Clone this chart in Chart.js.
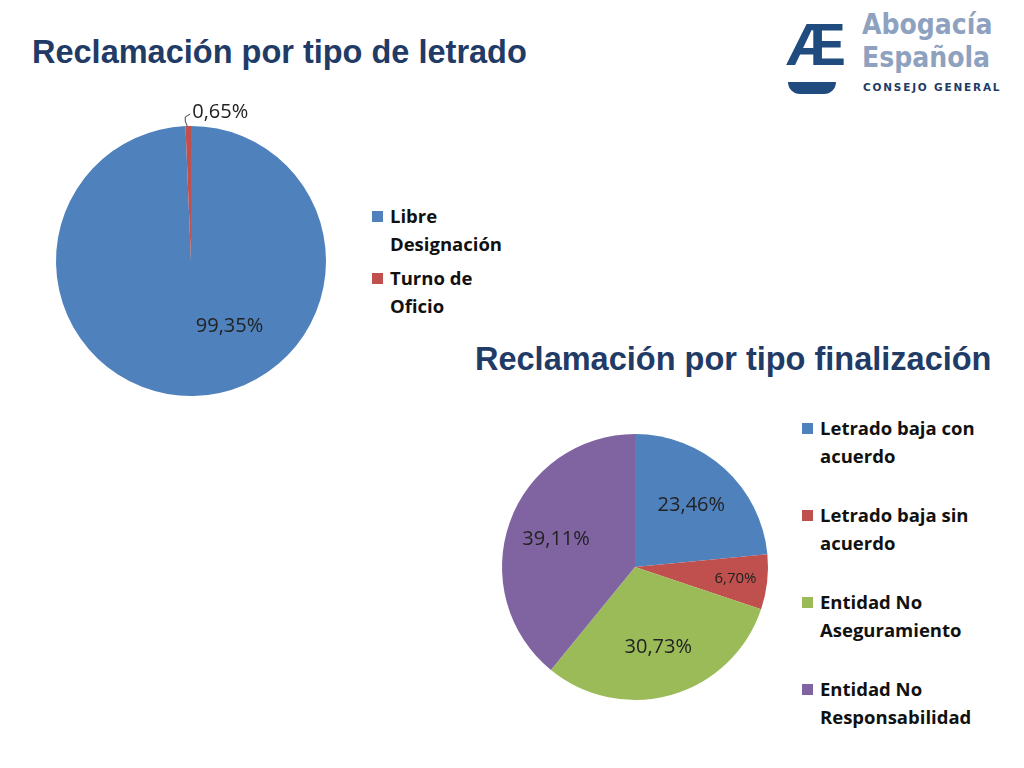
<!DOCTYPE html>
<html><head><meta charset="utf-8">
<script src="https://cdn.jsdelivr.net/npm/chart.js@4"></script>
<style>
body{margin:0;width:1024px;height:768px;background:#fff;position:relative;overflow:hidden;font-family:"Open Sans",sans-serif}
.t{position:absolute;font-family:"Liberation Sans",Arial,sans-serif;font-weight:bold;color:#1f3b66;font-size:32.5px}
.c{position:absolute}
.leg{position:absolute;font-size:18.5px;font-weight:bold;color:#111;line-height:28px}
.leg div{position:relative;padding-left:18px}
.leg span{position:absolute;left:0;top:9px;width:11px;height:11px}
</style></head><body>
<div class="t" style="left:32px;top:34px">Reclamación por tipo de letrado</div>
<div class="t" style="left:475px;top:341px">Reclamación por tipo finalización</div>
<div style="position:absolute;left:786px;top:12px;width:52px;height:82px">
  <div style="position:absolute;left:0;top:2px;font-family:'Liberation Sans';font-weight:bold;font-size:60px;line-height:62px;color:#1f4b7e">Æ</div>
  <div style="position:absolute;left:2px;top:70px;width:48px;height:12px;background:#1f4b7e;border-radius:0 0 24px 24px"></div>
</div>
<div style="position:absolute;left:862px;top:8px;font-family:'DejaVu Sans Condensed','DejaVu Sans';font-weight:bold;color:#8ea2c0;font-size:28px;line-height:33px">Abogacía<br>Española</div>
<div style="position:absolute;left:863px;top:81px;font-family:'DejaVu Sans';font-weight:bold;color:#1f3b66;font-size:10.5px;letter-spacing:1.8px">CONSEJO GENERAL</div>
<canvas id="chart1" class="c" style="left:31px;top:101px" width="320" height="320"></canvas>
<canvas id="chart2" class="c" style="left:477px;top:409px" width="316" height="316"></canvas>
<div class="leg" id="leg1" style="left:372px;top:202px;width:125px"></div>
<div class="leg" id="leg2" style="left:802px;top:414px;width:210px"></div>
<script>
const letradoLabels = ['Libre Designación', 'Turno de Oficio'];
const letradoValues = [99.35, 0.65];
const finLabels = ['Letrado baja con acuerdo', 'Letrado baja sin acuerdo', 'Entidad No Aseguramiento', 'Entidad No Responsabilidad'];
const finValues = [23.46, 6.70, 30.73, 39.11];
const colors = ['#4F81BD', '#C0504D', '#9BBB59', '#8064A2'];

const fmt = v => v.toFixed(2).replace('.', ',') + '%';

const pieLabels = {
    id: 'pieLabels',
    afterDatasetsDraw(chart) {
        const ctx = chart.ctx;
        const meta = chart.getDatasetMeta(0);
        const vals = chart.data.datasets[0].data;
        meta.data.forEach((arc, i) => {
            let mid = (arc.startAngle + arc.endAngle) / 2;
            const R = arc.outerRadius;
            ctx.save();
            ctx.fillStyle = '#222';
            ctx.textBaseline = 'middle';
            if (vals[i] < 2) {
                const ex = arc.x + Math.cos(mid) * R, ey = arc.y + Math.sin(mid) * R;
                ctx.strokeStyle = '#444';
                ctx.lineWidth = 1;
                ctx.beginPath();
                ctx.moveTo(ex - 1, ey);
                ctx.lineTo(ex - 3, ey - 5);
                ctx.lineTo(ex - 3, ey - 9);
                ctx.lineTo(ex + 2, ey - 12);
                ctx.stroke();
                ctx.font = '20px "Open Sans"';
                ctx.textAlign = 'left';
                ctx.fillText(fmt(vals[i]), ex + 4, ey - 14);
            } else {
                const small = vals[i] < 10;
                let f = small ? 0.76 : 0.63;
                // a slice covering almost the whole pie gets its label lower right
                if (vals[i] > 90) { mid = Math.PI * 0.33; f = 0.56; }
                ctx.font = (small ? '15px' : '20px') + ' "Open Sans"';
                ctx.textAlign = 'center';
                ctx.fillText(fmt(vals[i]), arc.x + Math.cos(mid) * R * f, arc.y + Math.sin(mid) * R * f);
            }
            ctx.restore();
        });
    }
};

function makePie(el, labels, values, pad) {
    new Chart(el, {
        type: 'pie',
        data: {
            labels: labels,
            datasets: [{
                data: values,
                backgroundColor: colors.slice(0, values.length),
                borderWidth: 0
            }]
        },
        options: {
            responsive: false,
            animation: false,
            layout: {padding: pad},
            plugins: {legend: {display: false}, tooltip: {enabled: false}}
        },
        plugins: [pieLabels]
    });
}

function makeLegend(el, labels, gap) {
    el.innerHTML = labels.map((l, i) =>
        '<div style="margin-bottom:' + gap + 'px"><span style="background:' + colors[i] + '"></span>' + l + '</div>').join('');
}

makePie(document.getElementById('chart1'), letradoLabels, letradoValues, 25);
makePie(document.getElementById('chart2'), finLabels, finValues, 25);
makeLegend(document.getElementById('leg1'), letradoLabels, 6);
makeLegend(document.getElementById('leg2'), finLabels, 31);
</script>
</body></html>
